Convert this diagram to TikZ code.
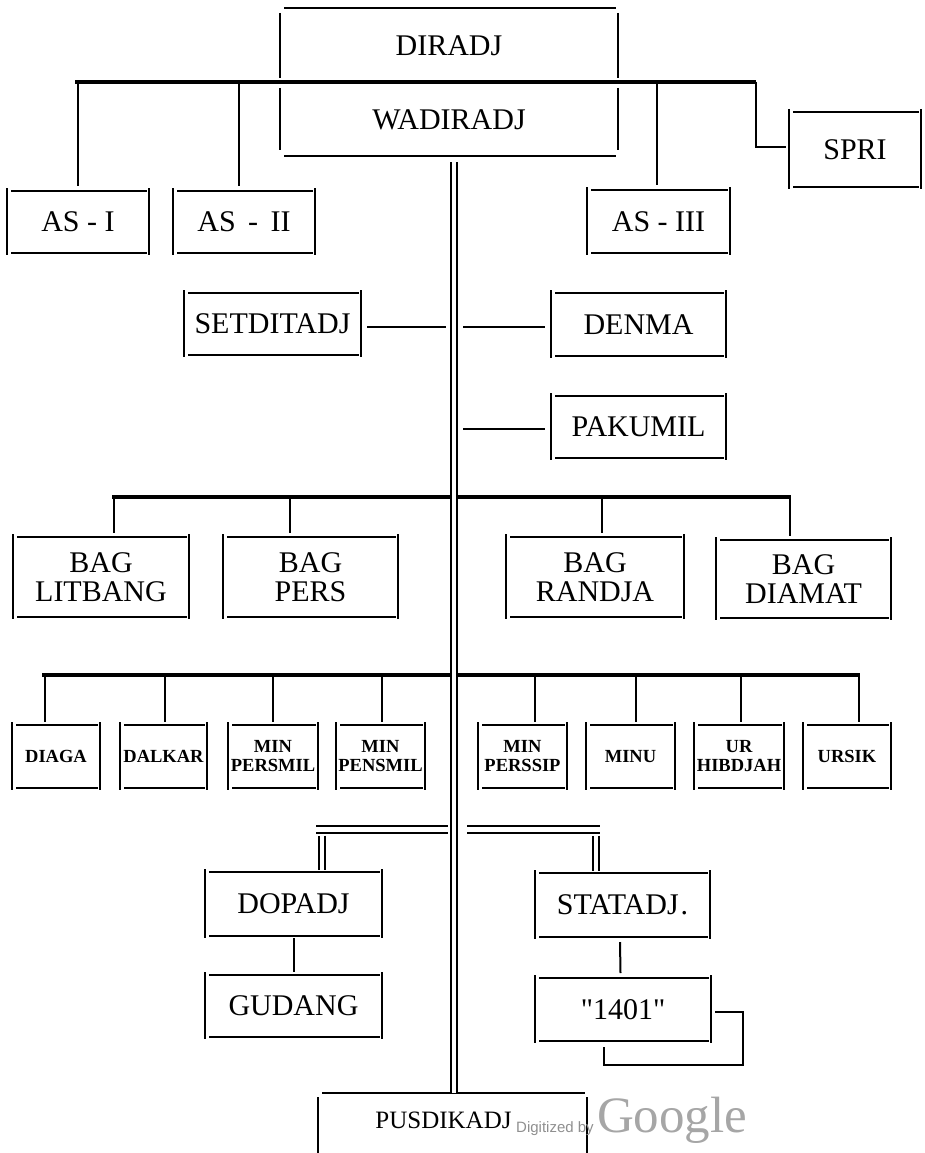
\documentclass[tikz,border=0pt]{standalone}
\usepackage{fontspec}
\setmainfont{Liberation Serif}
\newfontfamily\wmsans{Liberation Sans}
\newfontfamily\quotefont{Liberation Serif}[Ligatures=TeXOff]
\definecolor{wmdark}{HTML}{8F8F8F}
\definecolor{wmlight}{HTML}{A6A6A6}

% box edges: thick top/bottom rules, thin sides that stand slightly apart
\newcommand\hedge[2]{\draw[hl] ([xshift=4]#1.#2 west) -- ([xshift=-2]#1.#2 east);}
\newcommand\vedges[3]{%
  \draw[vl] ([yshift=#2]#1.north west) -- ([yshift=#3]#1.south west);
  \draw[vl] ([yshift=#2]#1.north east) -- ([yshift=#3]#1.south east);}
\newcommand\orgframe[1]{\hedge{#1}{north}\hedge{#1}{south}\vedges{#1}{3}{-2}}
\newcommand\straightquote{{\quotefont\symbol{34}}}

\begin{document}
\begin{tikzpicture}[x=1pt,y=-1pt,
  unitbox/.style={inner sep=0pt, outer sep=0pt, align=center,
    font=\fontsize{30}{29}\selectfont},
  smallbox/.style={inner sep=0pt, outer sep=0pt, align=center,
    font=\bfseries\fontsize{18.5}{19}\selectfont},
  wh/.style 2 args={minimum width=#1, minimum height=#2},
  hl/.style={line width=2.8pt},
  vl/.style={line width=1.7pt},
  link/.style={line width=2pt},
  busline/.style={line width=3.2pt},
  dbl/.style={double, line width=2pt, double distance=4pt},
  dblh/.style={double, line width=2.3pt, double distance=4.5pt},
]
\useasboundingbox (0,0) rectangle (924,1153);

% ---------- head ----------
\node[unitbox, wh={338}{75}] (diradj) at (449,45.5) {DIRADJ};
\node[unitbox, wh={338}{72}] (wadiradj) at (449,120) {WADIRADJ};
\hedge{diradj}{north}\vedges{diradj}{-5}{5}
\hedge{wadiradj}{south}\vedges{wadiradj}{-4}{6}

\node[unitbox, wh={142}{62}] (as1) at (78,222) {AS - I};
\node[unitbox, wh={142}{62}] (as2) at (244,222) {AS \,-\, II};
\node[unitbox, wh={143}{63}] (as3) at (658.5,221.5) {AS - III};
\node[unitbox, wh={132}{75}] (spri) at (855,149.5) {SPRI};
\foreach \n in {as1,as2,as3,spri} {\orgframe{\n}}

\coordinate (busA1) at (75,82);
\coordinate (busA2) at (756,82);
\draw[busline] (busA1) -- (busA2);
\draw[link] (as1.north |- busA1) -- ([yshift=5]as1.north);
\draw[link] ([xshift=-5]as2.north |- busA1) -- ([xshift=-5,yshift=5]as2.north);
\draw[link] ([xshift=-1.5]as3.north |- busA1) -- ([xshift=-1.5,yshift=5]as3.north);
\draw[link] (busA2) |- ([xshift=-3,yshift=2.5]spri.west);

% ---------- staff ----------
\node[unitbox, wh={177}{62}] (setditadj) at (272.5,324) {SETDITADJ};
\node[unitbox, wh={175}{63}] (denma) at (638.5,324.5) {DENMA};
\node[unitbox, wh={175}{62}] (pakumil) at (638.5,427) {PAKUMIL};
\foreach \n in {setditadj,denma,pakumil} {\orgframe{\n}}

% ---------- bureaus ----------
\coordinate (busB1) at (112,497);
\coordinate (busB2) at (791,497);
\draw[busline] (busB1) -- (busB2);
\node[unitbox, wh={176}{80}] (litbang) at (101,577) {BAG\\LITBANG};
\node[unitbox, wh={175}{80}] (pers) at (310.5,577) {BAG\\PERS};
\node[unitbox, wh={178}{80}] (randja) at (595,577) {BAG\\RANDJA};
\node[unitbox, wh={175}{78}] (diamat) at (803.5,579) {BAG\\DIAMAT};
\foreach \n in {litbang,pers,randja,diamat} {\orgframe{\n}}
\draw[link] ([xshift=13]litbang.north |- busB1) -- ([xshift=13,yshift=4]litbang.north);
\draw[link] ([xshift=-20.5]pers.north |- busB1) -- ([xshift=-20.5,yshift=4]pers.north);
\draw[link] ([xshift=7]randja.north |- busB1) -- ([xshift=7,yshift=4]randja.north);
\draw[link] ([xshift=-13.5]diamat.north |- busB1) -- ([xshift=-13.5,yshift=4]diamat.north);

% ---------- sections ----------
\coordinate (busC1) at (42,675);
\coordinate (busC2) at (860,675);
\draw[busline] (busC1) -- (busC2);
\node[smallbox, wh={88}{63}] (diaga) at (56,756.5) {DIAGA};
\node[smallbox, wh={87}{63}] (dalkar) at (163.5,756.5) {DALKAR};
\node[smallbox, wh={90}{63}] (persmil) at (273,756.5) {MIN\\PERSMIL};
\node[smallbox, wh={89}{63}] (pensmil) at (380.5,756.5) {MIN\\PENSMIL};
\node[smallbox, wh={89}{63}] (perssip) at (522.5,756.5) {MIN\\PERSSIP};
\node[smallbox, wh={89}{63}] (minu) at (630.5,756.5) {MINU};
\node[smallbox, wh={90}{63}] (hibdjah) at (739,756.5) {UR\\HIBDJAH};
\node[smallbox, wh={88}{63}] (ursik) at (847,756.5) {URSIK};
\foreach \n/\dx in {diaga/-11,dalkar/1.5,persmil/0,pensmil/1.5,perssip/12.5,minu/5.5,hibdjah/2,ursik/12} {
  \orgframe{\n}
  \draw[link] ([xshift=\dx]\n.north |- busC1) -- ([xshift=\dx,yshift=3]\n.north);
}

% ---------- depots and schools ----------
\node[unitbox, wh={177}{64}] (dopadj) at (293.5,904) {DOPADJ};
\node[unitbox, wh={177}{62}] (gudang) at (293.5,1006) {GUDANG};
\node[unitbox, wh={175}{64}] (statadj) at (622.5,905) {STATADJ\kern2pt.};
\node[unitbox, wh={176}{63}] (n1401) at (623,1009.5) {\straightquote1401\straightquote};
\foreach \n in {dopadj,gudang,statadj,n1401} {\orgframe{\n}}
\draw[link] ([yshift=-2]dopadj.south) -- ([yshift=3]gudang.north);
\draw[link] ([xshift=-2.5,yshift=-5]statadj.south) -- ([xshift=-2.5,yshift=5]n1401.north);
\draw[link] ([xshift=4,yshift=-2.5]n1401.east)
  -| ([xshift=32,yshift=-55.5]n1401.east)
  -| ([xshift=-19,yshift=-6]n1401.south);

\node[unitbox, wh={269}{54}, font=\fontsize{25}{25}\selectfont] (pusdikadj) at (452.5,1120) {PUSDIKADJ\kern18pt};
\hedge{pusdikadj}{north}\vedges{pusdikadj}{-4}{-12}

% ---------- main line of command ----------
\coordinate (trunkT) at ([xshift=5,yshift=-6]wadiradj.south);
\draw[dbl] (trunkT) -- (trunkT |- pusdikadj.north);

\draw[link] ([xshift=6,yshift=-3]setditadj.east) -- ([xshift=-8,yshift=-3]setditadj.east -| trunkT);
\draw[link] ([xshift=9,yshift=-2.5]denma.west -| trunkT) -- ([xshift=-6,yshift=-2.5]denma.west);
\draw[link] ([xshift=9,yshift=-2]pakumil.west -| trunkT) -- ([xshift=-6,yshift=-2]pakumil.west);

\coordinate (brL) at (316,829.5);
\coordinate (brR) at (600,829.5);
\draw[dblh] (brL) -- ([xshift=-6]brL -| trunkT);
\draw[dblh] ([xshift=13]brR -| trunkT) -- (brR);
\draw[dbl] ([xshift=28.5,yshift=-6]dopadj.north |- brL) -- ([xshift=28.5,yshift=2]dopadj.north);
\draw[dbl] ([xshift=-27,yshift=-6]statadj.north |- brR) -- ([xshift=-27,yshift=2]statadj.north);

% ---------- scan imprint ----------
\node[anchor=base west, inner sep=0pt, text=wmdark, font=\wmsans\fontsize{15}{15}\selectfont] (wm1) at (516,1132) {Digitized by};
\node[anchor=base west, inner sep=0pt, text=wmlight, font=\fontsize{51}{51}\selectfont] (wm2) at ([xshift=3]wm1.base east) {Google};
\end{tikzpicture}
\end{document}
